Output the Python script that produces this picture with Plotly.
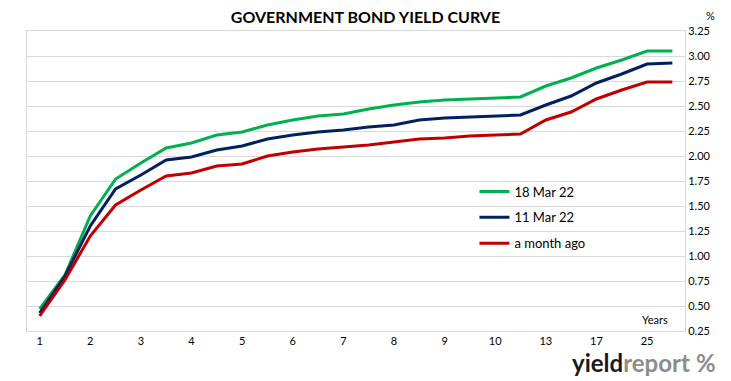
import plotly.graph_objects as go

maturities = ["1", "1.5", "2", "2.5", "3", "3.5", "4", "4.5", "5", "5.5", "6", "6.5",
              "7", "7.5", "8", "8.5", "9", "9.5", "10", "12", "13", "15", "17", "20", "25", "30"]
tick_labels = ["1", "2", "3", "4", "5", "6", "7", "8", "9", "10", "13", "17", "25"]

yield_18mar = [0.47, 0.81, 1.40, 1.77, 1.93, 2.08, 2.13, 2.21, 2.24, 2.31, 2.36, 2.40, 2.42,
               2.47, 2.51, 2.54, 2.56, 2.57, 2.58, 2.59, 2.70, 2.78, 2.88, 2.96, 3.05, 3.05]
yield_11mar = [0.43, 0.80, 1.30, 1.67, 1.81, 1.96, 1.99, 2.06, 2.10, 2.17, 2.21, 2.24, 2.26,
               2.29, 2.31, 2.36, 2.38, 2.39, 2.40, 2.41, 2.51, 2.60, 2.73, 2.82, 2.92, 2.93]
yield_month = [0.40, 0.76, 1.20, 1.51, 1.66, 1.80, 1.83, 1.90, 1.92, 2.00, 2.04, 2.07, 2.09,
               2.11, 2.14, 2.17, 2.18, 2.20, 2.21, 2.22, 2.36, 2.44, 2.57, 2.66, 2.74, 2.74]

series = [("18 Mar 22", yield_18mar, "#00b050"),
          ("11 Mar 22", yield_11mar, "#002060"),
          ("a month ago", yield_month, "#c00000")]

FONT = "Lato, 'Open Sans', sans-serif"

fig = go.Figure()
for i, (name, vals, color) in enumerate(series):
    fig.add_trace(go.Scatter(x=maturities, y=vals, mode="lines", name=name,
                             legendgroup=f"g{i}",
                             line=dict(color=color, width=3)))

fig.update_layout(
    width=731, height=381,
    margin=dict(l=27, r=46, t=31, b=50),
    paper_bgcolor="white", plot_bgcolor="white",
    font=dict(family=FONT, size=11, color="#000000"),
    title=dict(text="<b>GOVERNMENT BOND YIELD CURVE</b>", x=0.5, xanchor="center",
               y=0.955, yanchor="middle", font=dict(size=16, color="#000000", family=FONT)),
    showlegend=True,
    legend=dict(x=0.68, y=0.515, xanchor="left", yanchor="top",
                bgcolor="rgba(0,0,0,0)", font=dict(size=13, color="#000000"),
                tracegroupgap=6, itemwidth=30),
    xaxis=dict(type="category", categoryorder="array", categoryarray=maturities,
               range=[-0.5, len(maturities) - 0.5],
               tickmode="array", tickvals=tick_labels, ticktext=tick_labels,
               showgrid=False, showline=True, linecolor="#d9d9d9", linewidth=1,
               mirror=True, ticks="", tickfont=dict(size=11), zeroline=False),
    yaxis=dict(side="right", range=[0.25, 3.25], dtick=0.25, tick0=0.25, tickformat=".2f",
               showgrid=True, gridcolor="#d9d9d9", gridwidth=1,
               showline=True, linecolor="#d9d9d9", linewidth=1, mirror=True,
               ticks="", tickfont=dict(size=11), zeroline=False),
)

fig.add_annotation(text="%", xref="paper", yref="paper", x=1.0, y=1.0, xshift=25, yshift=16,
                   showarrow=False, xanchor="center", yanchor="middle",
                   font=dict(size=11, color="#000000"))
fig.add_annotation(text="Years", xref="paper", yref="paper", x=0.955, y=0.0, yshift=12,
                   showarrow=False, xanchor="center", yanchor="middle",
                   font=dict(size=11, color="#000000"))
fig.add_annotation(
    text="<b>yield</b><b><span style='color:#8c8c8c'>report</span></b> <b><span style='color:#8c8c8c'>%</span></b>",
    xref="paper", yref="paper", x=1.0, y=0.0, xshift=33, yshift=-31,
    showarrow=False, xanchor="right", yanchor="middle",
    font=dict(size=24, color="#1a1a1a", family=FONT))

fig.write_html("out.html", config={"displayModeBar": False},
               post_script="document.body.style.margin='0';document.body.style.overflow='hidden';")
